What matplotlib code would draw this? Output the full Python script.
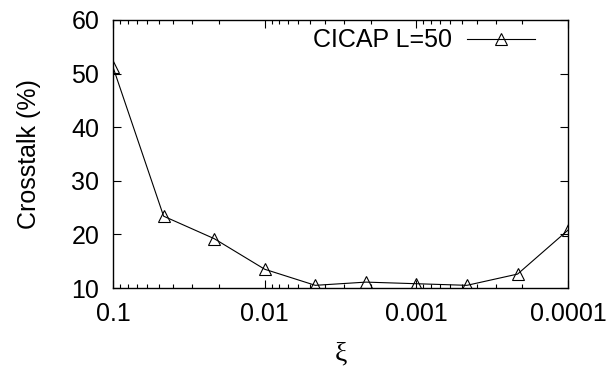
import matplotlib
matplotlib.use("Agg")
import matplotlib.pyplot as plt
from matplotlib.ticker import FixedLocator, FixedFormatter, LogLocator, NullFormatter

# data (x is log spaced, 1/3 decade steps)
xi = [0.1, 0.0464, 0.0215, 0.01, 0.00464, 0.00215, 0.001, 0.000464, 0.000215, 0.0001]
crosstalk = [51.2, 23.4, 19.2, 13.5, 10.5, 11.1, 10.8, 10.5, 12.6, 20.8]

xticks = [0.1, 0.01, 0.001, 0.0001]
xtick_labels = ["0.1", "0.01", "0.001", "0.0001"]
yticks = [10, 20, 30, 40, 50, 60]

plt.rcParams["font.family"] = ["Liberation Sans", "DejaVu Sans"]
plt.rcParams["font.size"] = 18

fig = plt.figure(figsize=(6.09, 3.70), dpi=100)
ax = fig.add_axes([0.1856, 0.2216, 0.7471, 0.7244])

ax.plot(xi, crosstalk, color="black", linewidth=0.8, marker="^", markersize=8,
        markerfacecolor="none", markeredgecolor="black", markeredgewidth=0.8,
        label="CICAP L=50")

ax.set_xscale("log")
ax.set_xlim(0.1, 0.0001)
ax.set_ylim(10, 60)

ax.xaxis.set_major_locator(FixedLocator(xticks))
ax.xaxis.set_major_formatter(FixedFormatter(xtick_labels))
ax.xaxis.set_minor_locator(LogLocator(base=10, subs=range(2, 10)))
ax.xaxis.set_minor_formatter(NullFormatter())
ax.set_yticks(yticks)

ax.tick_params(which="both", direction="in", top=True, right=True, width=0.8)
ax.tick_params(which="major", length=6, pad=10)
ax.tick_params(which="minor", length=3)
for s in ax.spines.values():
    s.set_linewidth(1.0)

# the xi in the reference looks like a serif glyph
ax.set_xlabel("ξ", labelpad=11, family=["Liberation Serif", "DejaVu Serif"], fontsize=20)
ax.set_ylabel("Crosstalk (%)", labelpad=22)

ax.legend(loc="upper right", frameon=False, markerfirst=False, handlelength=2.7,
          borderaxespad=0.2, handletextpad=0.6, bbox_to_anchor=(0.96, 1.025))

fig.savefig("out.png", dpi=100)
